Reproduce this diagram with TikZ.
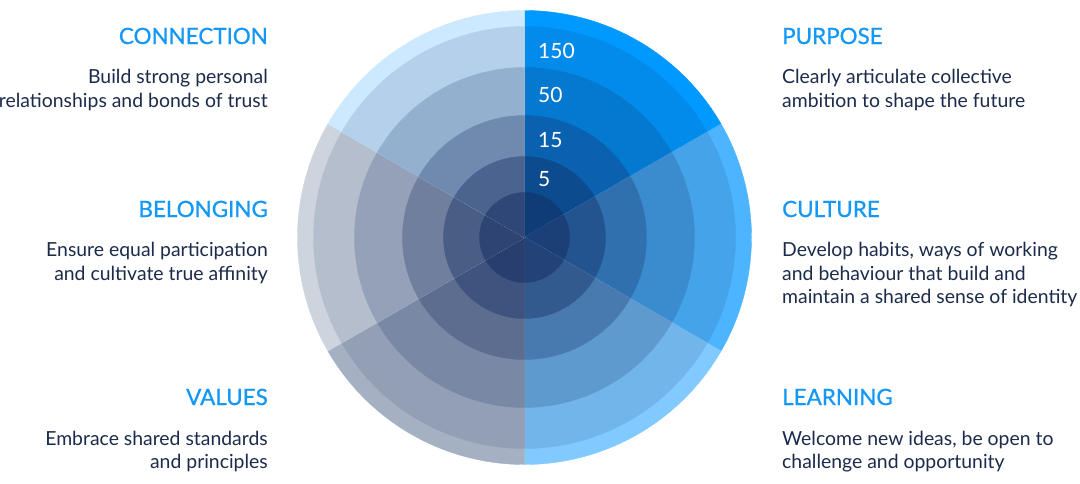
\documentclass[tikz,border=0pt]{standalone}
\usepackage{fontspec}
\setmainfont{Lato}
\newfontfamily\titlefont[FakeBold=0.8]{Lato}
\definecolor{navyov}{RGB}{18,42,95}
\definecolor{cpurpose}{RGB}{0,153,255}
\definecolor{cculture}{RGB}{77,181,255}
\definecolor{clearning}{RGB}{128,202,255}
\definecolor{cvalues}{RGB}{165,177,194}
\definecolor{cbelonging}{RGB}{205,212,222}
\definecolor{cconnection}{RGB}{204,233,255}
\definecolor{titleblue}{RGB}{20,152,245}
\definecolor{bodynavy}{RGB}{28,43,75}
\begin{document}
\begin{tikzpicture}[x=1pt,y=-1pt,
  title/.style={text=titleblue,font=\titlefont\fontsize{22.4}{26}\selectfont,inner sep=0pt},
  body/.style={text=bodynavy,font=\fontsize{19.4}{24}\selectfont,inner sep=0pt},
  num/.style={text=white,font=\fontsize{21}{24}\selectfont,inner sep=0pt,anchor=base west},
  seg/.style={fill=#1,draw=#1,line width=0.4pt,line join=round}]
\useasboundingbox[fill=white] (0,0) rectangle (1080,483);
\coordinate (c) at (524.5,237.5);
\foreach \col/\a in {cpurpose/-90, cculture/-30, clearning/30, cvalues/90, cbelonging/150, cconnection/210}{
  \foreach \r/\p in {227/100,211/87,170/70,122/50,81/30,45/15}{
    \path[seg=\col!\p!navyov] (c) -- ++(\a:\r) arc[start angle=\a, end angle=\a+60, radius=\r] -- cycle;
  }
}
\node[num] (n150) at (538,58.3) {150};
\node[num] (n50) at (538,102.7) {50};
\node[num] (n15) at (538,147.7) {15};
\node[num] (n5) at (538,186.7) {5};
% left
\node[title,anchor=base east] (tconn) at (268,44) {CONNECTION};
\node[body,anchor=base east] (bconn1) at (268,83) {Build strong personal};
\node[body,anchor=base east] (bconn2) at (268,107) {relationships and bonds of trust};
\node[title,anchor=base east] (tbel) at (268,217) {BELONGING};
\node[body,anchor=base east] (bbel1) at (268,256) {Ensure equal participation};
\node[body,anchor=base east] (bbel2) at (268,280) {and cultivate true affinity};
\node[title,anchor=base east] (tval) at (268,405) {VALUES};
\node[body,anchor=base east] (bval1) at (268,445) {Embrace shared standards};
\node[body,anchor=base east] (bval2) at (268,468) {and principles};
% right
\node[title,anchor=base west] (tpur) at (782,44) {PURPOSE};
\node[body,anchor=base west] (bpur1) at (782,83) {Clearly articulate collective};
\node[body,anchor=base west] (bpur2) at (782,107) {ambition to shape the future};
\node[title,anchor=base west] (tcul) at (782,217) {CULTURE};
\node[body,anchor=base west] (bcul1) at (782,256) {Develop habits, ways of working};
\node[body,anchor=base west] (bcul2) at (782,280) {and behaviour that build and};
\node[body,anchor=base west] (bcul3) at (782,303) {maintain a shared sense of identity};
\node[title,anchor=base west] (tlea) at (782,405) {LEARNING};
\node[body,anchor=base west] (blea1) at (782,445) {Welcome new ideas, be open to};
\node[body,anchor=base west] (blea2) at (782,468) {challenge and opportunity};
\end{tikzpicture}
\end{document}
